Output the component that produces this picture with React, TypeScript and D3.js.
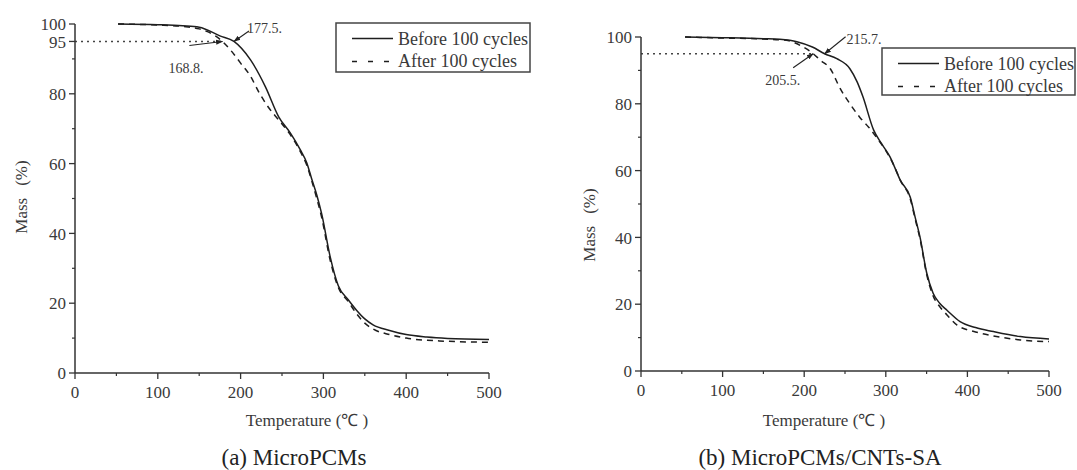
import React from "react";
import * as d3 from "d3";

// ---------- Data ----------
const tempBeforeA = [52, 100, 130, 150, 175, 192, 212, 230, 246, 260, 272, 280, 286, 292, 298, 308, 318, 330, 340, 350, 360, 380, 400, 425, 450, 500];
const massBeforeA = [100, 99.8, 99.5, 99.1, 96.6, 95, 89.7, 82, 73.4, 68.8, 64, 60.2, 55.5, 51, 45.5, 33.5, 25, 21, 18, 15.5, 13.8, 12.2, 11, 10.3, 9.9, 9.6];
const tempAfterA = [52, 100, 130, 150, 160, 170, 178, 188, 200, 212, 222, 234, 246, 260, 272, 280, 286, 292, 298, 308, 318, 330, 340, 350, 360, 380, 400, 440, 500];
const massAfterA = [100, 99.7, 99.3, 98.6, 97.8, 96.5, 95, 92.5, 88.8, 85, 80.5, 76, 72.5, 68.3, 63.5, 59.5, 55, 50, 44.5, 32.5, 24.5, 20.5, 17, 14.3, 12.6, 11, 10, 9.2, 8.8];

const tempBeforeB = [54, 100, 150, 170, 191, 210, 225, 240, 256, 265, 272, 285, 295, 305, 318, 330, 336, 342, 350, 358, 366, 375, 391, 410, 432, 465, 500];
const massBeforeB = [100, 99.8, 99.5, 99.3, 98.6, 97, 95, 93.5, 90.5, 86.5, 82.1, 72.2, 68, 64.2, 57, 52, 46, 40, 29.5, 23.3, 20.3, 18.2, 14.8, 13, 11.8, 10.3, 9.6];
const tempAfterB = [54, 100, 150, 178, 195, 211, 220, 232, 244, 256, 268, 279, 290, 300, 310, 318, 330, 336, 342, 350, 358, 366, 375, 387, 410, 432, 465, 500];
const massAfterB = [100, 99.7, 99.4, 99, 97.5, 95, 93, 90.5, 84.6, 80, 76, 73, 69.5, 66, 61.5, 57, 51.5, 45.5, 39.5, 29, 22.5, 19.3, 16.8, 13.8, 11.7, 10.5, 9.3, 8.8];

const xTicks = [0, 100, 200, 300, 400, 500];
const xMinorTicks = [50, 150, 250, 350, 450];
const yTicksA = [0, 20, 40, 60, 80, 95, 100];
const yTicksB = [0, 20, 40, 60, 80, 100];
const yMinorTicks = [10, 30, 50, 70, 90];

const seriesNames = ["Before 100 cycles", "After 100 cycles"];
const captions = ["(a) MicroPCMs", "(b) MicroPCMs/CNTs-SA"];
const xTitle = "Temperature (\u2103 )";

// annotation points: [temperature, mass] where the arrows point
const annotLabelsA = ["177.5.", "168.8."];
const annotTempsA = [192, 178];
const annotLabelsB = ["215.7.", "205.5."];
const annotTempsB = [225, 211];
const refMass = 95;

const FONT = "'Liberation Serif', 'Times New Roman', serif";
const TXT = "#3a3a3a";
const LINE = "#1e1e1e";

type PanelProps = {
  xr: [number, number];
  yr: [number, number];
  tB: number[]; mB: number[]; tA: number[]; mA: number[];
  yTicks: number[];
  annLabels: string[]; annTemps: number[];
  annStyle: { from: [number, number]; text: [number, number] }[];
  legend: { x: number; y: number; w: number; h: number };
  xTitleX: number; captionX: number; caption: string;
  yLabelX: number; yLabelY: number;
};

function Panel(p: PanelProps) {
  const x = d3.scaleLinear().domain([0, 500]).range(p.xr);
  const y = d3.scaleLinear().domain([0, 100]).range(p.yr);
  const line = d3.line<[number, number]>().x(d => x(d[0])).y(d => y(d[1])).curve(d3.curveMonotoneX);
  const before = p.tB.map((t, i) => [t, p.mB[i]] as [number, number]);
  const after = p.tA.map((t, i) => [t, p.mA[i]] as [number, number]);
  const x0 = p.xr[0], y0 = p.yr[0];
  const L = p.legend;
  return (
    <g>
      {/* dotted reference line */}
      <line x1={x(0)} x2={x(p.annTemps[1])} y1={y(refMass)} y2={y(refMass)} stroke="#444" strokeWidth={1.4} strokeDasharray="2,4" />
      {/* curves */}
      <path d={line(after) || ""} fill="none" stroke={LINE} strokeWidth={1.5} strokeDasharray="6,5" />
      <path d={line(before) || ""} fill="none" stroke={LINE} strokeWidth={1.5} />
      {/* axes */}
      <line x1={x0} x2={x0} y1={y(0)} y2={y(100)} stroke="#333" strokeWidth={1.5} />
      <line x1={x(0)} x2={x(500)} y1={y0} y2={y0} stroke="#333" strokeWidth={1.5} />
      {p.yTicks.map(v => (
        <g key={"yt" + v}>
          <line x1={x0 - 6} x2={x0} y1={y(v)} y2={y(v)} stroke="#333" strokeWidth={1.3} />
          <text x={x0 - 9} y={y(v)} dy="0.36em" textAnchor="end" fontSize={17} fontFamily={FONT} fill={TXT}>{v}</text>
        </g>
      ))}
      {yMinorTicks.map(v => (
        <line key={"ym" + v} x1={x0 - 3} x2={x0} y1={y(v)} y2={y(v)} stroke="#333" strokeWidth={1.2} />
      ))}
      {xTicks.map(v => (
        <g key={"xt" + v}>
          <line x1={x(v)} x2={x(v)} y1={y0} y2={y0 + 6} stroke="#333" strokeWidth={1.3} />
          <text x={x(v)} y={y0 + 25} textAnchor="middle" fontSize={17} fontFamily={FONT} fill={TXT}>{v}</text>
        </g>
      ))}
      {xMinorTicks.map(v => (
        <line key={"xm" + v} x1={x(v)} x2={x(v)} y1={y0} y2={y0 + 3} stroke="#333" strokeWidth={1.2} />
      ))}
      {/* titles */}
      <text x={p.xTitleX} y={426} textAnchor="middle" fontSize={17} fontFamily={FONT} fill={TXT}>{xTitle}</text>
      <text x={p.captionX} y={465} textAnchor="middle" fontSize={23} fontFamily={FONT} fill="#222">{p.caption}</text>
      <text transform={`translate(${p.yLabelX},${p.yLabelY}) rotate(-90)`} textAnchor="middle" fontSize={17} fontFamily={FONT} fill={TXT}>
        Mass<tspan dx={12}>(%)</tspan>
      </text>
      {/* annotations */}
      {p.annLabels.map((lab, i) => {
        const tx = x(p.annTemps[i]), ty = y(refMass);
        const s = p.annStyle[i];
        return (
          <g key={"an" + i}>
            <line x1={tx + s.from[0]} y1={ty + s.from[1]} x2={tx} y2={ty} stroke="#222" strokeWidth={1.1} markerEnd="url(#arrow)" />
            <text x={tx + s.text[0]} y={ty + s.text[1]} fontSize={14} fontFamily={FONT} fill={TXT}>{lab}</text>
          </g>
        );
      })}
      {/* legend */}
      <rect x={L.x} y={L.y} width={L.w} height={L.h} fill="white" stroke="#444" strokeWidth={1.5} />
      <line x1={L.x + 16} x2={L.x + 57} y1={L.y + 15.5} y2={L.y + 15.5} stroke={LINE} strokeWidth={1.5} />
      <text x={L.x + 62} y={L.y + 21.5} fontSize={18} fontFamily={FONT} fill={TXT}>{seriesNames[0]}</text>
      <line x1={L.x + 16} x2={L.x + 57} y1={L.y + 38.5} y2={L.y + 38.5} stroke={LINE} strokeWidth={1.5} strokeDasharray="5,11" />
      <text x={L.x + 62} y={L.y + 44} fontSize={18} fontFamily={FONT} fill={TXT}>{seriesNames[1]}</text>
    </g>
  );
}

export default function App() {
  return (
    <svg width={1077} height={470} style={{ position: "absolute", left: 0, top: 0, background: "white" }}>
      <defs>
        <marker id="arrow" viewBox="0 0 10 10" refX={9} refY={5} markerWidth={7} markerHeight={7} orient="auto" markerUnits="userSpaceOnUse">
          <path d="M0,1.5 L10,5 L0,8.5 Z" fill="#222" />
        </marker>
      </defs>
      <rect width={1077} height={470} fill="white" />
      <Panel
        xr={[75, 489]} yr={[373, 24]}
        tB={tempBeforeA} mB={massBeforeA} tA={tempAfterA} mA={massAfterA}
        yTicks={yTicksA}
        annLabels={annotLabelsA} annTemps={annotTempsA}
        annStyle={[{ from: [15, -10.5], text: [13, -8.5] }, { from: [-33, 4], text: [-54, 31.5] }]}
        legend={{ x: 336, y: 23, w: 194, h: 49 }}
        xTitleX={307} captionX={294} caption={captions[0]}
        yLabelX={27} yLabelY={197}
      />
      <Panel
        xr={[641, 1049]} yr={[371, 37]}
        tB={tempBeforeB} mB={massBeforeB} tA={tempAfterB} mA={massAfterB}
        yTicks={yTicksB}
        annLabels={annotLabelsB} annTemps={annotTempsB}
        annStyle={[{ from: [21, -17], text: [22, -10] }, { from: [-20, 14], text: [-48, 31] }]}
        legend={{ x: 882, y: 48, w: 193, h: 47 }}
        xTitleX={824} captionX={820} caption={captions[1]}
        yLabelX={595} yLabelY={225}
      />
    </svg>
  );
}
